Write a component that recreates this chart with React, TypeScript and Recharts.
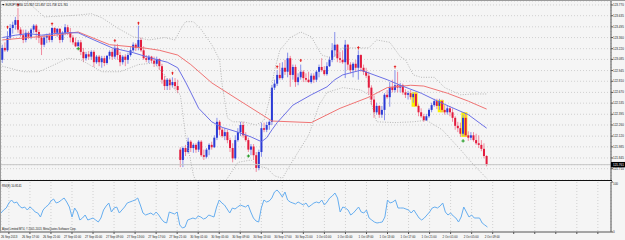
import React from "react";
import {
  ComposedChart,
  Bar,
  Line,
  XAxis,
  YAxis,
  CartesianGrid,
  ReferenceLine,
} from "recharts";

// EURJPY M30 candles (price units)
const openPx = [
  123.08, 123.23, 123.2, 123.36, 123.48, 123.52, 123.58, 123.46, 123.39, 123.33,
  123.42, 123.37, 123.46, 123.51, 123.43, 123.36, 123.27, 123.36, 123.38, 123.33,
  123.48, 123.42, 123.47, 123.33, 123.42, 123.49, 123.43, 123.36, 123.3, 123.25,
  123.3, 123.18, 123.1, 123.15, 123.12, 123.18, 123.05, 123.12, 123.05, 123.1,
  123.04, 123.13, 123.18, 123.12, 123.23, 123.14, 123.05, 123.12, 123.08, 123.14,
  123.2, 123.27, 123.23, 123.33, 123.2, 123.1, 123.08, 123.12, 123.07, 123.03,
  123.09, 123.0, 122.83, 122.75, 122.83, 122.76, 122.8, 122.75, 121.95, 121.82,
  121.97, 121.92, 122.05, 121.97, 122.01, 121.95, 122.05, 121.88, 121.86, 121.95,
  122.01, 121.98, 122.1, 122.3, 122.2, 122.12, 122.17, 122.07, 121.97, 121.84,
  122.07, 122.17, 122.26, 122.13, 122.07, 121.95, 121.99, 121.88, 121.72, 121.92,
  122.22, 122.2, 122.26, 122.3, 122.73, 122.78, 122.89, 122.85, 122.98, 122.93,
  123.1, 122.89, 122.99, 122.8, 122.86, 122.93, 122.85, 122.83, 122.8, 122.88,
  122.83, 122.93, 122.99, 122.95, 122.9, 123.0, 123.08, 123.2, 123.27, 123.1,
  123.08, 123.05, 123.27, 123.02, 122.95, 123.03, 122.98, 123.14, 122.98, 122.93,
  122.88, 122.73, 122.58, 122.42, 122.5, 122.39, 122.45, 122.64, 122.61, 122.74,
  122.7, 122.76, 122.73, 122.76, 122.67, 122.64, 122.66, 122.61, 122.65, 122.5,
  122.42, 122.37, 122.32, 122.37, 122.45, 122.51, 122.56, 122.5, 122.56, 122.45,
  122.42, 122.47, 122.42, 122.35, 122.25, 122.22, 122.15, 122.35, 122.13, 122.1,
  122.13, 122.07, 122.03, 122.01, 121.96, 121.87,
];
const highPx = [
  123.27, 123.3, 123.44, 123.53, 123.56, 123.62, 123.73, 123.49, 123.46, 123.46,
  123.44, 123.48, 123.53, 123.53, 123.46, 123.37, 123.39, 123.41, 123.42, 123.49,
  123.49, 123.48, 123.48, 123.44, 123.53, 123.52, 123.48, 123.39, 123.36, 123.33,
  123.33, 123.23, 123.18, 123.19, 123.2, 123.2, 123.14, 123.14, 123.13, 123.13,
  123.14, 123.2, 123.22, 123.27, 123.28, 123.18, 123.14, 123.15, 123.17, 123.24,
  123.3, 123.29, 123.51, 123.36, 123.25, 123.14, 123.14, 123.13, 123.12, 123.12,
  123.1, 123.03, 122.88, 122.85, 122.85, 122.86, 122.85, 122.83, 121.98, 121.99,
  122.01, 122.1, 122.07, 122.03, 122.03, 122.07, 122.07, 121.95, 121.97, 122.03,
  122.05, 122.13, 122.35, 122.32, 122.23, 122.22, 122.2, 122.1, 122.03, 122.13,
  122.22, 122.3, 122.3, 122.17, 122.1, 122.02, 122.02, 121.92, 121.95, 122.29,
  122.29, 122.3, 122.32, 122.76, 122.83, 122.95, 123.04, 123.05, 123.08, 123.17,
  123.13, 123.02, 123.02, 122.91, 123.02, 122.95, 122.91, 122.93, 122.91, 122.91,
  122.95, 123.02, 123.1, 123.0, 123.05, 123.12, 123.29, 123.43, 123.28, 123.18,
  123.2, 123.33, 123.28, 123.05, 123.05, 123.08, 123.2, 123.15, 123.02, 122.98,
  122.93, 122.76, 122.63, 122.54, 122.51, 122.5, 122.66, 122.7, 122.8, 122.83,
  122.95, 122.93, 122.79, 122.78, 122.71, 122.69, 122.7, 122.67, 122.67, 122.52,
  122.47, 122.4, 122.4, 122.47, 122.54, 122.59, 122.59, 122.59, 122.58, 122.51,
  122.51, 122.5, 122.47, 122.37, 122.3, 122.29, 122.39, 122.41, 122.18, 122.17,
  122.17, 122.15, 122.13, 122.07, 122.03, 121.88,
];
const lowPx = [
  123.04, 123.18, 123.18, 123.33, 123.41, 123.46, 123.42, 123.37, 123.29, 123.3,
  123.34, 123.34, 123.42, 123.33, 123.29, 123.14, 123.24, 123.29, 123.3, 123.3,
  123.38, 123.37, 123.29, 123.3, 123.39, 123.39, 123.3, 123.27, 123.24, 123.25,
  123.14, 123.05, 123.07, 123.08, 123.08, 122.99, 123.03, 123.0, 122.98, 123.0,
  123.02, 123.09, 123.08, 123.09, 123.08, 123.0, 123.02, 123.0, 123.03, 123.12,
  123.18, 123.19, 123.2, 123.18, 123.08, 123.05, 123.04, 123.04, 122.99, 123.0,
  122.95, 122.78, 122.7, 122.7, 122.7, 122.73, 122.71, 122.66, 121.73, 121.73,
  121.87, 121.9, 121.92, 121.91, 121.91, 121.92, 121.86, 121.82, 121.84, 121.88,
  121.95, 121.97, 122.07, 122.13, 122.1, 122.07, 122.03, 121.92, 121.79, 121.82,
  122.05, 122.12, 122.1, 122.05, 121.92, 121.88, 121.82, 121.67, 121.69, 121.86,
  122.17, 122.17, 122.2, 122.26, 122.7, 122.75, 122.83, 122.83, 122.89, 122.86,
  122.74, 122.83, 122.74, 122.76, 122.83, 122.8, 122.8, 122.79, 122.78, 122.79,
  122.8, 122.86, 122.93, 122.88, 122.88, 122.99, 123.05, 123.12, 123.05, 123.04,
  123.03, 122.85, 122.95, 122.91, 122.86, 122.93, 122.83, 122.93, 122.89, 122.85,
  122.64, 122.51, 122.35, 122.39, 122.35, 122.35, 122.32, 122.59, 122.49, 122.67,
  122.67, 122.67, 122.67, 122.64, 122.6, 122.58, 122.58, 122.54, 122.49, 122.37,
  122.35, 122.3, 122.31, 122.35, 122.42, 122.49, 122.46, 122.45, 122.42, 122.39,
  122.39, 122.37, 122.3, 122.2, 122.17, 122.11, 122.12, 122.11, 122.06, 122.07,
  122.05, 122.01, 121.97, 121.93, 121.84, 121.74,
];
const closePx = [
  123.23, 123.2, 123.36, 123.48, 123.52, 123.58, 123.46, 123.39, 123.33, 123.42,
  123.37, 123.46, 123.51, 123.43, 123.36, 123.27, 123.36, 123.38, 123.33, 123.48,
  123.42, 123.47, 123.33, 123.42, 123.49, 123.43, 123.36, 123.3, 123.25, 123.3,
  123.18, 123.1, 123.15, 123.12, 123.18, 123.05, 123.12, 123.05, 123.1, 123.04,
  123.13, 123.18, 123.12, 123.23, 123.14, 123.05, 123.12, 123.08, 123.14, 123.2,
  123.27, 123.23, 123.33, 123.2, 123.1, 123.08, 123.12, 123.07, 123.03, 123.09,
  123.0, 122.83, 122.75, 122.83, 122.76, 122.8, 122.75, 122.7, 121.82, 121.97,
  121.92, 122.05, 121.97, 122.01, 121.95, 122.05, 121.88, 121.86, 121.95, 122.01,
  121.98, 122.1, 122.3, 122.2, 122.12, 122.17, 122.07, 121.97, 121.84, 122.07,
  122.17, 122.26, 122.13, 122.07, 121.95, 121.99, 121.88, 121.72, 121.92, 122.22,
  122.2, 122.26, 122.3, 122.73, 122.78, 122.89, 122.85, 122.98, 122.93, 123.1,
  122.89, 122.99, 122.8, 122.86, 122.93, 122.85, 122.83, 122.8, 122.88, 122.83,
  122.93, 122.99, 122.95, 122.9, 123.0, 123.08, 123.2, 123.27, 123.1, 123.08,
  123.05, 123.27, 123.02, 122.95, 123.03, 122.98, 123.14, 122.98, 122.93, 122.88,
  122.73, 122.58, 122.42, 122.5, 122.39, 122.45, 122.64, 122.61, 122.74, 122.7,
  122.76, 122.73, 122.76, 122.67, 122.64, 122.66, 122.61, 122.65, 122.5, 122.42,
  122.37, 122.32, 122.37, 122.45, 122.51, 122.56, 122.5, 122.56, 122.45, 122.42,
  122.47, 122.42, 122.35, 122.25, 122.22, 122.15, 122.35, 122.13, 122.1, 122.13,
  122.07, 122.03, 122.01, 121.96, 121.87, 121.76,
];

// RSI(8), one value per bar
const rsiVals = [
  38, 44, 48, 58, 64, 58, 60, 52, 48, 50, 44, 50, 46, 40, 38, 30, 44, 50, 54, 62,
  66, 58, 60, 64, 68, 60, 50, 30, 48, 40, 24, 28, 34, 24, 26, 28, 24, 20, 28, 44,
  52, 58, 40, 48, 50, 38, 44, 50, 58, 60, 62, 64, 68, 54, 38, 34, 36, 38, 34, 40,
  34, 26, 20, 18, 40, 38, 36, 40, 14, 8, 10, 24, 26, 28, 26, 32, 30, 26, 28, 34,
  32, 30, 50, 64, 58, 54, 46, 38, 48, 46, 50, 54, 52, 50, 54, 40, 28, 22, 20, 48,
  64, 60, 62, 68, 80, 84, 78, 70, 80, 64, 60, 58, 56, 60, 57, 54, 58, 50, 54, 58,
  60, 58, 64, 54, 60, 68, 72, 78, 68, 40, 50, 48, 44, 34, 38, 44, 50, 40, 38, 44,
  28, 24, 20, 18, 19, 20, 30, 64, 58, 60, 64, 48, 48, 48, 46, 44, 38, 44, 36, 28,
  24, 28, 34, 40, 48, 50, 48, 52, 58, 40, 34, 38, 32, 28, 20, 30, 50, 40, 30, 34,
  28, 28, 28, 18, 14, 10,
];

// moving averages and bands, [bar, price] read at points along each line
const maFastPts: [number, number][] = [
  [0, 123.36], [5, 123.39], [10, 123.41], [15, 123.39], [20, 123.41], [25, 123.42],
  [29, 123.42], [35, 123.33], [42, 123.23], [50, 123.17], [57, 123.1], [63, 123.05],
  [67, 122.98], [70, 122.8], [72, 122.67], [75, 122.47], [80, 122.3], [84, 122.23],
  [90, 122.17], [95, 122.11], [99, 122.05], [101, 122.1], [103, 122.2], [105, 122.29],
  [111, 122.51], [118, 122.64], [124, 122.74], [127, 122.83], [130, 122.89],
  [137, 122.95], [142, 122.89], [147, 122.83], [152, 122.76], [160, 122.66],
  [165, 122.58], [171, 122.49], [178, 122.39], [185, 122.22],
];
const maSlowPts: [number, number][] = [
  [0, 123.33], [10, 123.36], [20, 123.39], [29, 123.43], [41, 123.27], [54, 123.23],
  [60, 123.2], [67, 123.14], [72, 123.02], [80, 122.79], [90, 122.58], [103, 122.31],
  [118, 122.29], [129, 122.47], [140, 122.61], [147, 122.73], [156, 122.76],
  [161, 122.75], [170, 122.66], [178, 122.56], [185, 122.46],
];
const bbUpperPts: [number, number][] = [
  [5, 123.93], [10, 123.8], [16, 123.62], [22, 123.63], [28, 123.64], [34, 123.66],
  [38, 123.61], [44, 123.48], [50, 123.37], [56, 123.33], [62, 123.36], [66, 123.33],
  [68, 123.46], [70, 123.56], [73, 123.56], [76, 123.46], [80, 123.27], [83, 123.08],
  [84, 122.76], [86, 122.35], [88, 122.3], [92, 122.3], [97, 122.26], [100, 122.32],
  [102, 122.58], [104, 122.95], [106, 123.2], [110, 123.36], [114, 123.43],
  [118, 123.37], [122, 123.14], [126, 123.1], [130, 123.23], [140, 123.23],
  [143, 123.33], [148, 123.3], [152, 123.12], [154, 123.08], [157, 122.89],
  [160, 122.86], [165, 122.86], [169, 122.73], [175, 122.64], [180, 122.65],
  [185, 122.65],
];
const bbLowerPts: [number, number][] = [
  [0, 123.0], [8, 122.93], [14, 122.93], [20, 123.02], [25, 123.1], [30, 123.08],
  [38, 122.93], [45, 122.93], [52, 123.02], [58, 123.04], [62, 122.89], [66, 122.7],
  [68, 122.64], [70, 122.13], [73, 121.63], [76, 121.38], [82, 121.42], [86, 121.59],
  [90, 121.79], [95, 121.82], [98, 121.74], [101, 121.72], [104, 121.62],
  [107, 121.59], [110, 121.76], [113, 121.92], [117, 122.13], [121, 122.51],
  [124, 122.67], [130, 122.73], [137, 122.7], [140, 122.64], [143, 122.3],
  [150, 122.29], [157, 122.3], [162, 122.32], [168, 122.2], [175, 121.95],
  [180, 121.76], [185, 121.59],
];

// signal arrows [bar, price]
const sellArrows: [number, number][] = [
  [2, 123.49], [6, 123.77], [19, 123.53], [43, 123.32], [52, 123.54], [65, 122.91],
  [105, 122.99], [114, 123.07], [136, 123.23], [150, 122.99],
];
const buyArrows: [number, number][] = [[29, 123.22], [94, 121.87], [176, 122.06]];

// yellow boxes: first bar, last bar, top price, bottom price
const boxFrom = [157, 167, 176];
const boxTo = [158, 168, 177];
const boxTop = [122.67, 122.575, 122.42];
const boxBottom = [122.49, 122.42, 122.11];

const priceTicks = [
  123.77, 123.635, 123.495, 123.36, 123.22, 123.085, 122.945, 122.81, 122.67,
  122.535, 122.395, 122.26, 122.12, 121.985, 121.845, 121.71,
];
const lastPrice = 121.761;

const timeLabels = [
  "26 Sep 2013", "26 Sep 17:00", "26 Sep 21:00", "27 Sep 01:00", "27 Sep 05:00",
  "27 Sep 09:00", "27 Sep 13:00", "27 Sep 17:00", "27 Sep 21:00", "30 Sep 01:00",
  "30 Sep 05:00", "30 Sep 09:00", "30 Sep 13:00", "30 Sep 17:00", "30 Sep 21:00",
  "1 Oct 01:00", "1 Oct 05:00", "1 Oct 09:00", "1 Oct 13:00", "1 Oct 17:00",
  "1 Oct 21:00", "2 Oct 01:00", "2 Oct 05:00", "2 Oct 09:00",
];

const SLOTS = 233;
const gridTicks = Array.from({ length: 29 }, (_, k) => 3 + 8 * k);

const BULL = "#2b3bd6";
const BEAR = "#e31b3d";
const BULL_WICK = "#8790ea";
const BEAR_WICK = "#f08a9e";
const GRID = "#d0d0d0";
const FONT = "'Liberation Sans', Arial, sans-serif";

const lookup = (pts: [number, number][]) => {
  const m = new Map<number, number>(pts);
  return (i: number) => (m.has(i) ? (m.get(i) as number) : null);
};
const fastAt = lookup(maFastPts);
const slowAt = lookup(maSlowPts);
const upAt = lookup(bbUpperPts);
const loAt = lookup(bbLowerPts);
const sellAt = lookup(sellArrows);
const buyAt = lookup(buyArrows);

const boxOf = (i: number) => {
  const k = boxFrom.findIndex((b, n) => i >= b && i <= boxTo[n]);
  return k < 0 ? null : { top: boxTop[k], bottom: boxBottom[k] };
};

const rows = Array.from({ length: SLOTS }, (_, i) => {
  const has = i < closePx.length;
  return {
    i,
    range: has ? [lowPx[i], highPx[i]] : null,
    open: has ? openPx[i] : null,
    high: has ? highPx[i] : null,
    low: has ? lowPx[i] : null,
    close: has ? closePx[i] : null,
    box: boxOf(i),
    maFast: fastAt(i),
    maSlow: slowAt(i),
    bbUp: upAt(i),
    bbLo: loAt(i),
    sell: sellAt(i),
    buy: buyAt(i),
    rsi: has ? rsiVals[i] : null,
  };
});

// candle drawn from the bar's [low, high] range; the same linear price->pixel
// mapping places the open/close body and any yellow highlight behind it
const renderCandle = (props: any) => {
  const { x, y, width, height, payload } = props;
  if (payload == null || payload.open == null || !Number.isFinite(y)) return <g />;
  const { open, close, high, low, box } = payload;
  const top = Math.min(y, y + height);
  const h = Math.abs(height);
  const span = high - low || 1;
  const py = (v: number) => top + ((high - v) / span) * h;
  const cx = x + width / 2;
  const up = close >= open;
  const bodyTop = py(Math.max(open, close));
  const bodyH = Math.max(0.8, Math.abs(py(open) - py(close)));
  return (
    <g>
      {box && (
        <rect
          x={cx - 1.7}
          y={py(box.top)}
          width={3.4}
          height={py(box.bottom) - py(box.top)}
          fill="#fbf200"
        />
      )}
      <line x1={cx} x2={cx} y1={top} y2={top + h} stroke={up ? BULL_WICK : BEAR_WICK} strokeWidth={1} />
      <rect x={cx - 1} y={bodyTop} width={2} height={bodyH} fill={up ? BULL : BEAR} />
    </g>
  );
};

const renderSell = (p: any) => {
  if (p.value == null || p.cy == null || !Number.isFinite(p.cy)) return <g key={`s${p.index}`} />;
  const { cx, cy } = p;
  return (
    <path
      key={`s${p.index}`}
      d={`M${cx},${cy - 1.8} L${cx + 1.5},${cy} L${cx + 0.5},${cy} L${cx + 0.5},${cy + 1.5} L${cx - 0.5},${cy + 1.5} L${cx - 0.5},${cy} L${cx - 1.5},${cy} Z`}
      fill="#e52222"
    />
  );
};

const renderBuy = (p: any) => {
  if (p.value == null || p.cy == null || !Number.isFinite(p.cy)) return <g key={`b${p.index}`} />;
  const { cx, cy } = p;
  return (
    <path
      key={`b${p.index}`}
      d={`M${cx - 0.5},${cy - 1.6} h1 v1.1 h1.1 v1 h-1.1 v1.1 h-1 v-1.1 h-1.1 v-1 h1.1 Z`}
      fill="#1f9a1f"
    />
  );
};

const PriceTick = ({ x, y, payload }: any) => {
  const v = payload.value as number;
  if (v === lastPrice) {
    return (
      <g>
        <rect x={611} y={y - 2.7} width={14} height={5.4} fill="#000" />
        <text x={x} y={y} fontSize={3} fill="#fff" dominantBaseline="central" fontFamily={FONT}>
          {v.toFixed(3)}
        </text>
      </g>
    );
  }
  return (
    <text x={x} y={y} fontSize={3} fill="#222" dominantBaseline="central" fontFamily={FONT}>
      {v.toFixed(3)}
    </text>
  );
};

const TimeTick = ({ x, y, payload }: any) => {
  const label = timeLabels[(payload.value - 3) / 8];
  if (!label) return <g />;
  return (
    <text x={x - 8} y={y + 0.5} fontSize={2.9} fill="#222" dominantBaseline="central" fontFamily={FONT}>
      {label}
    </text>
  );
};

const RsiTick = ({ x, y, payload }: any) => (
  <text
    x={x}
    y={payload.value === 100 ? y + 2.2 : y - 0.5}
    fontSize={3}
    fill="#222"
    dominantBaseline="central"
    fontFamily={FONT}
  >
    {payload.value}
  </text>
);

export default function App() {
  return (
    <div
      style={{
        position: "absolute",
        left: 0,
        top: 0,
        width: 625,
        height: 240,
        background: "#f5f5f5",
        overflow: "hidden",
        fontFamily: FONT,
      }}
    >
      <div style={{ position: "absolute", left: 0, top: 0 }}>
        <ComposedChart width={625} height={181} data={rows} margin={{ top: 1, right: 0, bottom: 1, left: 1 }}>
          <CartesianGrid stroke={GRID} strokeDasharray="1 2" />
          <XAxis
            dataKey="i"
            type="category"
            ticks={gridTicks}
            interval={0}
            tick={false}
            axisLine={false}
            tickLine={false}
            height={0}
          />
          <YAxis
            type="number"
            orientation="right"
            width={14}
            domain={[121.568, 123.82]}
            allowDataOverflow
            ticks={[...priceTicks, lastPrice]}
            interval={0}
            tickSize={2}
            tickMargin={0}
            axisLine={{ stroke: "#555" }}
            tickLine={{ stroke: "#555" }}
            tick={<PriceTick />}
          />
          <ReferenceLine y={lastPrice} stroke="#c6c6c6" strokeWidth={1} />
          <Line dataKey="bbUp" stroke="#a4a4a4" strokeWidth={0.8} strokeDasharray="1 1.5" dot={false} activeDot={false} connectNulls isAnimationActive={false} />
          <Line dataKey="bbLo" stroke="#a4a4a4" strokeWidth={0.8} strokeDasharray="1 1.5" dot={false} activeDot={false} connectNulls isAnimationActive={false} />
          <Line dataKey="maSlow" stroke="#f07474" strokeWidth={1} dot={false} activeDot={false} connectNulls isAnimationActive={false} />
          <Bar dataKey="range" shape={renderCandle} isAnimationActive={false} />
          <Line dataKey="maFast" stroke="#6c70e6" strokeWidth={1} dot={false} activeDot={false} connectNulls isAnimationActive={false} />
          <Line dataKey="sell" stroke="none" dot={renderSell} activeDot={false} isAnimationActive={false} />
          <Line dataKey="buy" stroke="none" dot={renderBuy} activeDot={false} isAnimationActive={false} />
        </ComposedChart>
      </div>

      <div style={{ position: "absolute", left: 0, top: 181 }}>
        <ComposedChart width={625} height={59} data={rows} margin={{ top: 1, right: 0, bottom: 0, left: 1 }}>
          <CartesianGrid stroke={GRID} strokeDasharray="1 2" horizontal={false} />
          <XAxis
            dataKey="i"
            type="category"
            ticks={gridTicks}
            interval={0}
            height={8}
            tickSize={2}
            axisLine={{ stroke: "#555" }}
            tickLine={{ stroke: "#555" }}
            tick={<TimeTick />}
          />
          <YAxis
            type="number"
            orientation="right"
            width={14}
            domain={[0, 100]}
            ticks={[0, 100]}
            interval={0}
            tickSize={2}
            tickMargin={0}
            axisLine={{ stroke: "#555" }}
            tickLine={{ stroke: "#555" }}
            tick={<RsiTick />}
          />
          <Line dataKey="rsi" stroke="#66aef0" strokeWidth={1} dot={false} activeDot={false} isAnimationActive={false} />
        </ComposedChart>
      </div>

      <svg
        width={625}
        height={240}
        style={{ position: "absolute", left: 0, top: 0, pointerEvents: "none" }}
      >
        <line x1={0} x2={625} y1={0.5} y2={0.5} stroke="#9a9a9a" />
        <line x1={0.5} x2={0.5} y1={0} y2={233} stroke="#9a9a9a" />
        <line x1={0} x2={612} y1={180.5} y2={180.5} stroke="#111" />
        <path d="M2,4 L4.4,4 L3.2,5.8 Z" fill="#111" />
        <text x={5.5} y={5} fontSize={2.9} fill="#111" dominantBaseline="central" fontFamily={FONT}>
          EURJPY,M30 121.857 121.857 121.758 121.761
        </text>
        <text x={2} y={185.5} fontSize={2.9} fill="#111" dominantBaseline="central" fontFamily={FONT}>
          RSI(8) 10.8141
        </text>
        <text x={2} y={229.5} fontSize={2.7} fill="#111" dominantBaseline="central" fontFamily={FONT}>
          Alpari Limited MT4, © 2001-2013, MetaQuotes Software Corp.
        </text>
      </svg>
    </div>
  );
}
